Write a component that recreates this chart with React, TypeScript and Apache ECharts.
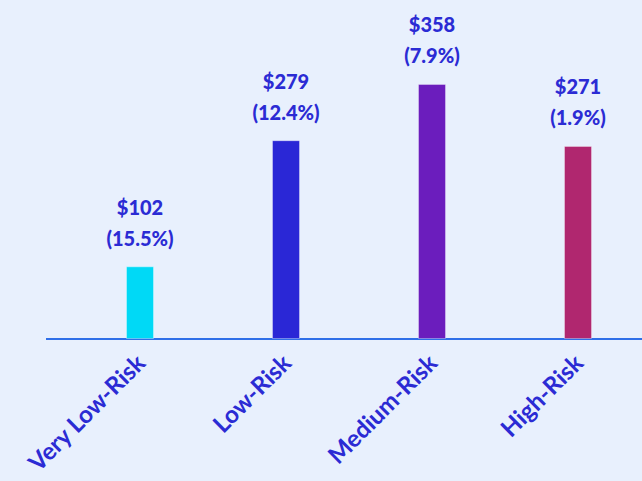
import React, { useEffect, useRef } from "react";
import * as echarts from "echarts";

const categories = ["Very Low-Risk", "Low-Risk", "Medium-Risk", "High-Risk"];
const values = [102, 279, 358, 271];
const percents = ["15.5%", "12.4%", "7.9%", "1.9%"];
const barColors = ["#00d9f6", "#2a27d6", "#6b1dbd", "#b0276f"];

const TEXT_COLOR = "#2b2bd4";
const FONT = "Lato, 'Noto Sans', sans-serif";
const AXIS_FONT = "Lato, 'Noto Sans', sans-serif";

export default function App() {
  const ref = useRef<HTMLDivElement>(null);
  useEffect(() => {
    if (!ref.current) return;
    const chart = echarts.init(ref.current, undefined, { renderer: "svg" });
    chart.setOption({
      animation: false,
      backgroundColor: "#e8f0fd",
      grid: {
        left: 67,
        top: 54,
        width: 584,
        height: 285,
        containLabel: false,
        outerBoundsMode: "none",
      },
      xAxis: {
        type: "category",
        data: categories,
        axisLine: { show: true, lineStyle: { color: "#2f6fe8", width: 2 } },
        axisTick: { show: false },
        axisLabel: {
          rotate: 45,
          margin: 19,
          color: TEXT_COLOR,
          fontFamily: AXIS_FONT,
          fontWeight: "bold",
          fontSize: 24,
        },
      },
      yAxis: {
        type: "value",
        min: 0,
        max: 400,
        show: false,
        splitLine: { show: false },
      },
      graphic: [
        {
          type: "line",
          shape: { x1: 46, y1: 339, x2: 68, y2: 339 },
          style: { stroke: "#2f6fe8", lineWidth: 2 },
        },
      ],
      series: [
        {
          type: "bar",
          barWidth: 28,
          data: values.map((v, i) => ({
            value: v,
            itemStyle: {
              color: barColors[i],
              borderColor: "rgba(255,255,255,0.35)",
              borderWidth: 1,
            },
          })),
          label: {
            show: true,
            position: "top",
            distance: 13,
            color: TEXT_COLOR,
            fontFamily: FONT,
            fontWeight: 900,
            fontSize: 20,
            lineHeight: 31,
            formatter: (p: any) => `$${values[p.dataIndex]}\n(${percents[p.dataIndex]})`,
          },
        },
      ],
    });
    return () => chart.dispose();
  }, []);
  return (
    <div
      ref={ref}
      style={{ position: "fixed", left: 0, top: 0, width: 642, height: 481 }}
    />
  );
}
